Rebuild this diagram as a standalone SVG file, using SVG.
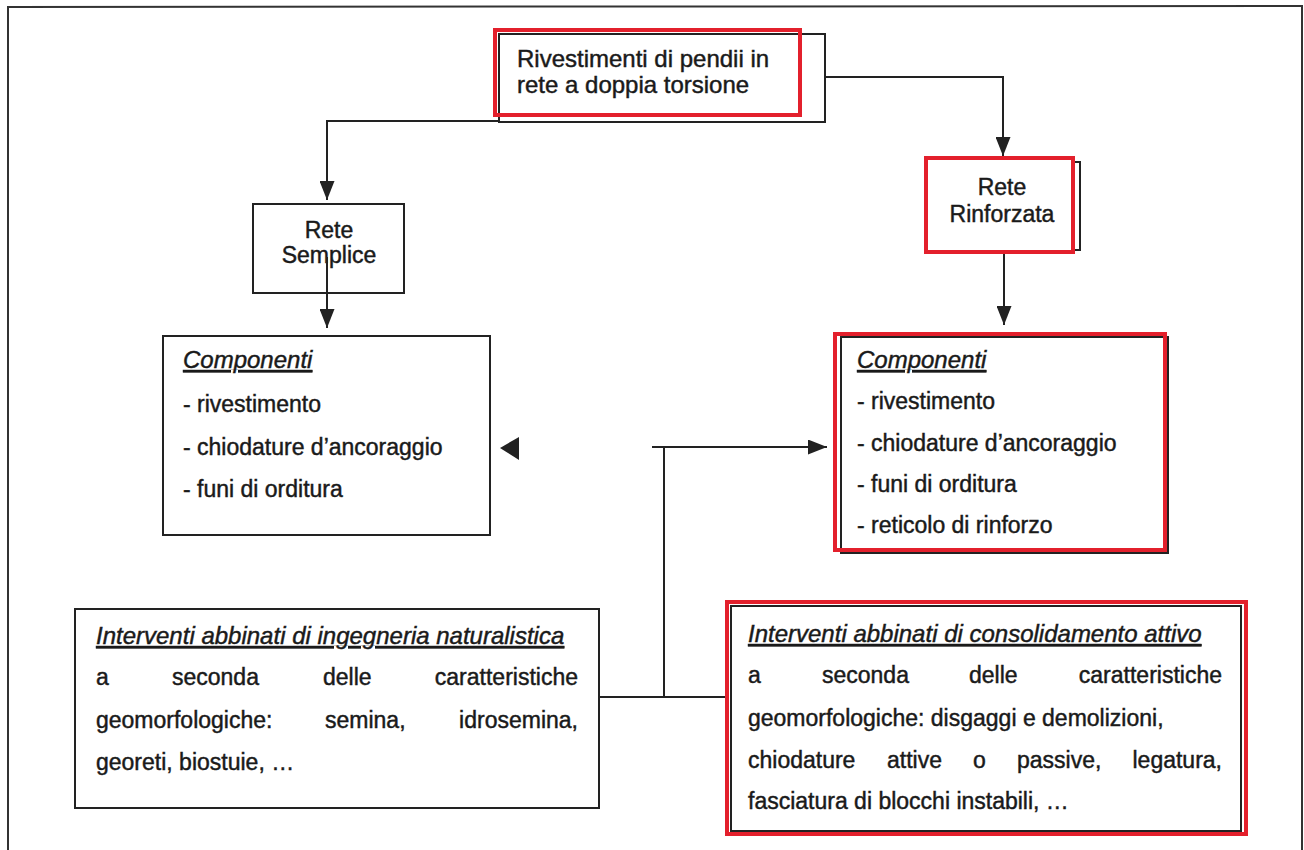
<svg xmlns="http://www.w3.org/2000/svg" width="1304" height="850" viewBox="0 0 1304 850">
<defs>
<style>
.t{font-family:"Liberation Sans",Arial,sans-serif;font-size:23px;fill:#1a1a1a;stroke:#1a1a1a;stroke-width:0.45}
.tb{font-family:"Liberation Sans",Arial,sans-serif;font-size:24px;fill:#1a1a1a;stroke:#1a1a1a;stroke-width:0.45}
.h{font-style:italic;text-decoration:underline;font-size:24px}
.bk{fill:#fff;stroke:#222;stroke-width:2}
.rd{fill:none;stroke:#e3202c;stroke-width:4}
.ln{fill:none;stroke:#222;stroke-width:2}
.ah{fill:#222}
</style>
<marker id="arr" markerUnits="userSpaceOnUse" markerWidth="19" markerHeight="15" refX="19" refY="7.5" orient="auto">
<path d="M0,0 L19,7.5 L0,15 z" fill="#222"/>
</marker>
</defs>
<rect x="0" y="0" width="1304" height="850" fill="#fff"/>
<path d="M8,860 L8,7 L1302,6 L1302,860" fill="none" stroke="#333" stroke-width="2"/>

<g id="node-top">
<rect class="bk" x="499" y="34" width="326" height="88"/>
<rect class="rd" x="495" y="30" width="305" height="85"/>
<text class="tb" x="517" y="67">Rivestimenti di pendii in</text>
<text class="tb" x="517" y="93">rete a doppia torsione</text>
</g>

<g id="node-rete-semplice">
<rect class="bk" x="253" y="204" width="151" height="89"/>
<text class="t" x="329" y="238" text-anchor="middle">Rete</text>
<text class="t" x="329" y="263" text-anchor="middle">Semplice</text>
</g>

<g id="node-rete-rinforzata">
<rect class="bk" x="930" y="162" width="150" height="88"/>
<rect class="rd" x="926" y="158" width="147" height="94" fill="#fff" style="fill:#fff"/>
<text class="t" x="1002" y="195" text-anchor="middle">Rete</text>
<text class="t" x="1002" y="222" text-anchor="middle">Rinforzata</text>
</g>

<g id="node-componenti-semplice">
<rect class="bk" x="163" y="336" width="327" height="199"/>
<text class="t h" x="183" y="368">Componenti</text>
<text class="t" x="183" y="412">- rivestimento</text>
<text class="t" x="183" y="455">- chiodature d’ancoraggio</text>
<text class="t" x="183" y="497">- funi di orditura</text>
</g>

<g id="node-componenti-rinforzata">
<rect class="bk" x="841" y="337" width="327" height="216"/>
<rect class="rd" x="835" y="334" width="330" height="216"/>
<text class="t h" x="857" y="368">Componenti</text>
<text class="t" x="857" y="409">- rivestimento</text>
<text class="t" x="857" y="451">- chiodature d’ancoraggio</text>
<text class="t" x="857" y="492">- funi di orditura</text>
<text class="t" x="857" y="533">- reticolo di rinforzo</text>
</g>

<g id="node-ingegneria-naturalistica">
<rect class="bk" x="75" y="609" width="524" height="199"/>
<text class="t h" x="96" y="644">Interventi abbinati di ingegneria naturalistica</text>
<text class="t" x="96" y="685">a</text>
<text class="t" x="172" y="685">seconda</text>
<text class="t" x="323" y="685">delle</text>
<text class="t" x="578" y="685" text-anchor="end">caratteristiche</text>
<text class="t" x="96" y="728">geomorfologiche:</text>
<text class="t" x="325" y="728">semina,</text>
<text class="t" x="578" y="728" text-anchor="end">idrosemina,</text>
<text class="t" x="96" y="770">georeti, biostuie, …</text>
</g>

<g id="node-consolidamento-attivo">
<rect class="bk" x="731" y="606" width="510" height="225"/>
<rect class="rd" x="727" y="602" width="519" height="232"/>
<text class="t h" x="748" y="642">Interventi abbinati di consolidamento attivo</text>
<text class="t" x="748" y="683">a</text>
<text class="t" x="822" y="683">seconda</text>
<text class="t" x="969" y="683">delle</text>
<text class="t" x="1222" y="683" text-anchor="end">caratteristiche</text>
<text class="t" x="748" y="726">geomorfologiche: disgaggi e demolizioni,</text>
<text class="t" x="748" y="768">chiodature</text>
<text class="t" x="887" y="768">attive</text>
<text class="t" x="973" y="768">o</text>
<text class="t" x="1017" y="768">passive,</text>
<text class="t" x="1222" y="768" text-anchor="end">legatura,</text>
<text class="t" x="748" y="809">fasciatura di blocchi instabili, …</text>
</g>

<g id="connectors">
<path class="ln" d="M499,121 L327,121 L327,200" marker-end="url(#arr)"/>
<path class="ln" d="M825,77 L1003,77 L1003,156" marker-end="url(#arr)"/>
<path class="ln" d="M327,257 L327,328" marker-end="url(#arr)"/>
<path class="ln" d="M1004,254 L1004,325" marker-end="url(#arr)"/>
<polygon class="ah" points="500,448 519,437 519,460"/>
<path class="ln" d="M652,447 L827,447" marker-end="url(#arr)"/>
<path class="ln" d="M664,447 L664,697"/>
<path class="ln" d="M599,697 L725,697"/>
</g>
</svg>
